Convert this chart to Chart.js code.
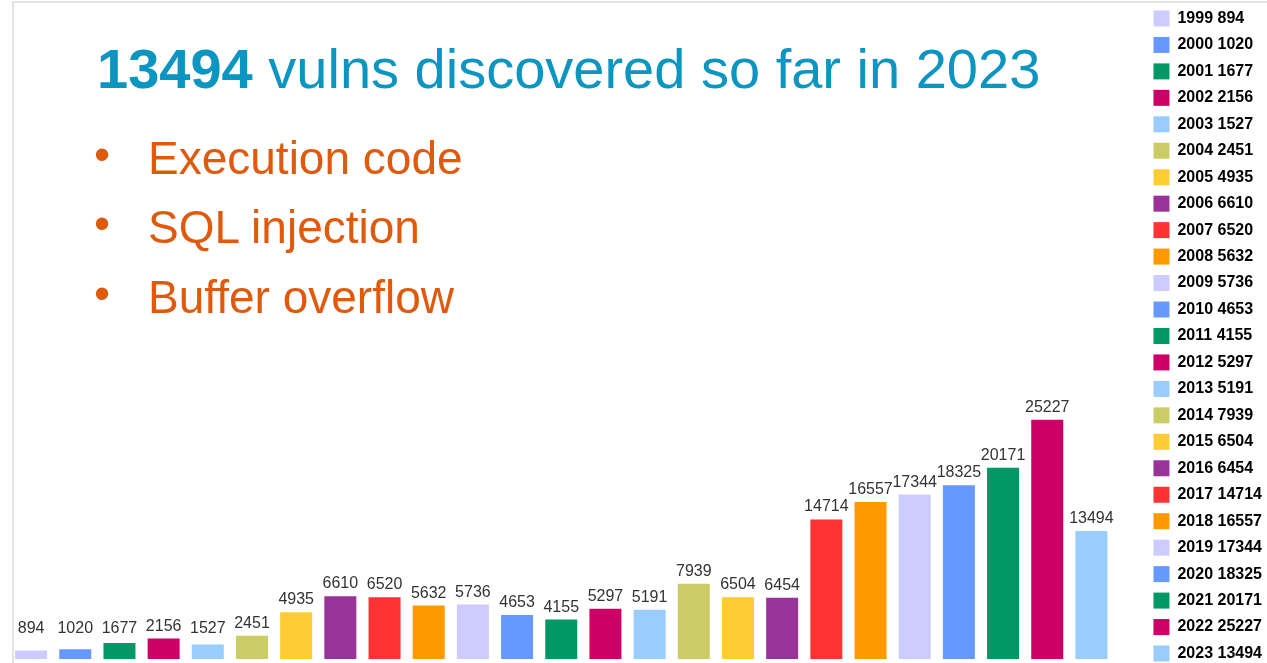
<!DOCTYPE html>
<html>
<head>
<meta charset="utf-8">
<script src="https://cdn.jsdelivr.net/npm/chart.js@4.4.0/dist/chart.umd.min.js"></script>
<style>
  html, body { margin: 0; padding: 0; background: #fff; overflow: hidden; width: 1267px; height: 663px; }
  #frame { position: absolute; left: 12px; top: 1px; width: 1300px; height: 700px;
           border-top: 2px solid #e3e3e3; border-left: 2px solid #e3e3e3; }
  #myChart { position: absolute; left: 0; top: 0; }
  .head { position: absolute; left: 97px; top: 41px; font-family: "Liberation Sans", Arial, sans-serif;
          font-size: 56px; line-height: 56px; color: #0b95c1; white-space: nowrap; }
  .bul { position: absolute; font-family: "Liberation Sans", Arial, sans-serif; font-size: 46px;
         line-height: 46px; color: #e05a0e; white-space: nowrap; }
</style>
</head>
<body>
<div id="frame"></div>
<canvas id="myChart" width="1272" height="690"></canvas>
<div class="head"><b>13494</b> vulns discovered so far in 2023</div>
<div class="bul" style="left:94px;top:131px">•</div>
<div class="bul" style="left:148px;top:135px">Execution code</div>
<div class="bul" style="left:94px;top:200px">•</div>
<div class="bul" style="left:148px;top:204px">SQL injection</div>
<div class="bul" style="left:94px;top:270px">•</div>
<div class="bul" style="left:148px;top:274px">Buffer overflow</div>
<script>
var years = ["1999", "2000", "2001", "2002", "2003", "2004", "2005", "2006", "2007", "2008",
             "2009", "2010", "2011", "2012", "2013", "2014", "2015", "2016", "2017", "2018",
             "2019", "2020", "2021", "2022", "2023"];
var vulns = [894, 1020, 1677, 2156, 1527, 2451, 4935, 6610, 6520, 5632,
             5736, 4653, 4155, 5297, 5191, 7939, 6504, 6454, 14714, 16557,
             17344, 18325, 20171, 25227, 13494];
var palette = ['#ccccff', '#6699ff', '#009966', '#cc0066', '#99ccff',
               '#cccc66', '#ffcc33', '#993399', '#ff3333', '#ff9900'];
var barColors = years.map(function(y, i) { return palette[i % palette.length]; });

// numbers above the bars, small bars share one floor line
var valueLabels = {
    id: 'valueLabels',
    afterDatasetsDraw: function(chart) {
        var ctx = chart.ctx;
        var meta = chart.getDatasetMeta(0);
        ctx.save();
        ctx.font = '16px "Liberation Sans", Arial, sans-serif';
        ctx.fillStyle = '#333';
        ctx.textAlign = 'center';
        ctx.textBaseline = 'alphabetic';
        meta.data.forEach(function(bar, i) {
            var y = Math.min(bar.y - 8, bar.base - 26);
            ctx.fillText(String(vulns[i]), bar.x, y);
        });
        ctx.restore();
    }
};

var config = {
    type: 'bar',
    data: {
        labels: years,
        datasets: [{
            label: 'Vulnerabilities',
            data: vulns,
            backgroundColor: barColors,
            borderWidth: 0,
            barPercentage: 0.9,
            categoryPercentage: 0.805
        }]
    },
    options: {
        responsive: false,
        animation: false,
        layout: { padding: { left: 9 } },
        scales: {
            x: {
                ticks: { display: false },
                grid: { display: false },
                border: { display: false },
                afterFit: function(scale) { scale.height = 31; }
            },
            y: {
                position: 'right',
                min: 0,
                max: 69500,
                ticks: { display: false },
                grid: { display: false },
                border: { display: false },
                afterFit: function(scale) { scale.width = 29.5; }
            }
        },
        plugins: {
            tooltip: { enabled: false },
            legend: {
                position: 'right',
                align: 'start',
                labels: {
                    boxWidth: 16,
                    boxHeight: 16,
                    padding: 10.46,
                    color: '#3a3a3a',
                    font: { family: '"Liberation Sans", Arial, sans-serif', size: 16, weight: 'bold' },
                    generateLabels: function(chart) {
                        return years.map(function(y, i) {
                            return {
                                text: y + ' ' + vulns[i],
                                fillStyle: barColors[i],
                                strokeStyle: barColors[i],
                                lineWidth: 0,
                                hidden: false,
                                index: i
                            };
                        });
                    }
                }
            }
        }
    },
    plugins: [valueLabels]
};

window.onload = function() {
    var ctx = document.getElementById("myChart");
    window.myBar = new Chart(ctx, config);
};
</script>
</body>
</html>
